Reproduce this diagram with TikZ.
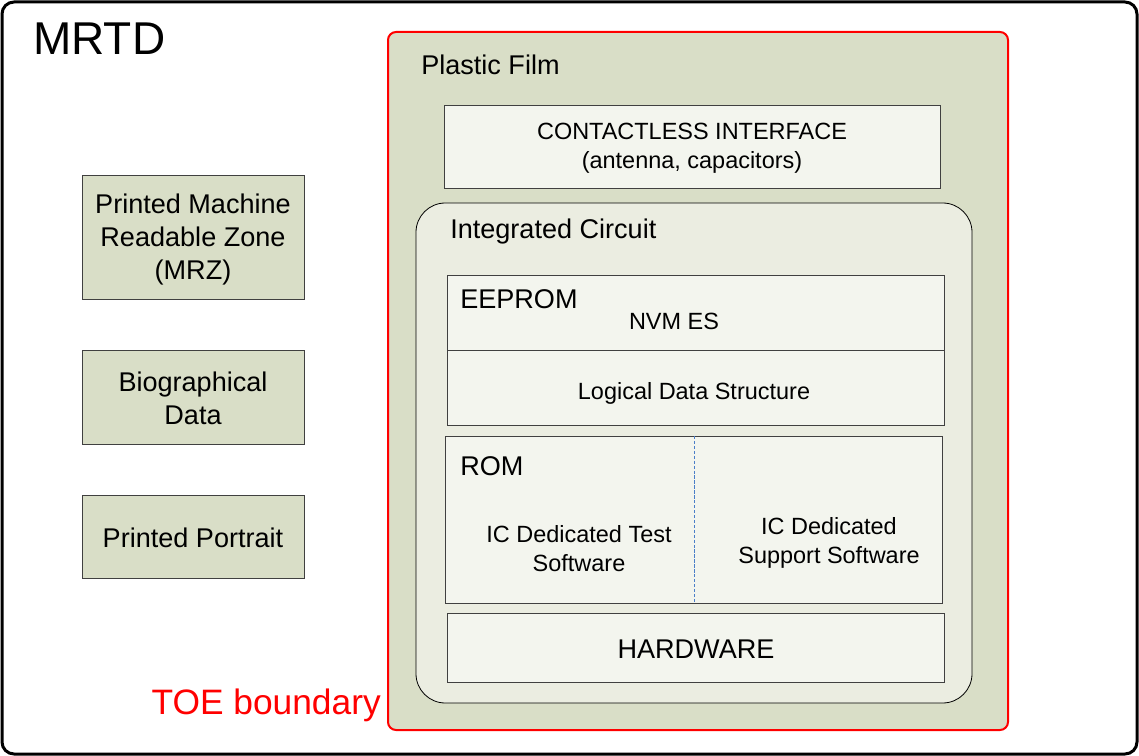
\documentclass[tikz,border=0pt]{standalone}
\usepackage{fontspec}
\setmainfont{Liberation Sans}
\definecolor{film}{HTML}{D9DEC7}
\definecolor{icfill}{HTML}{EBEDE1}
\definecolor{boxfill}{HTML}{F3F5EE}
\definecolor{boxline}{HTML}{404040}
\definecolor{dashblue}{HTML}{4A7EC8}
\tikzset{
  outerframe/.style={draw=black, line width=2.25pt, rounded corners=9pt, fill=white},
  filmbox/.style={draw=red, line width=1.5pt, rounded corners=6pt, fill=film},
  icbox/.style={draw=black, line width=0.6pt, rounded corners=22pt, fill=icfill},
  innerbox/.style={draw=boxline, line width=0.7pt, fill=boxfill},
  sidebox/.style={draw=boxline, line width=0.7pt, fill=film},
  bigtxt/.style={font=\fontsize{20.3}{24.75}\selectfont, inner sep=0pt, align=center, yshift=-1.5pt},
  smalltxt/.style={font=\fontsize{17.6}{21.75}\selectfont, inner sep=0pt, align=center, yshift=-1.5pt},
}
\begin{document}
\begin{tikzpicture}[x=0.75pt, y=-0.75pt]
\useasboundingbox (0,0) rectangle (1139,756);
% outer frame
\draw[outerframe] (2,2) rectangle (1137,754);
\node[font=\fontsize{34.5}{40}\selectfont, inner sep=0pt, anchor=west] (mrtd) at (33,39) {MRTD};
% left boxes
\draw[sidebox] (82,175) rectangle (304,299);
\node[bigtxt] (mrz) at (193,237) {Printed Machine\\Readable Zone\\(MRZ)};
\draw[sidebox] (82,350) rectangle (304,444);
\node[bigtxt] (bio) at (193,396) {Biographical\\Data};
\draw[sidebox] (82,495) rectangle (304,578);
\node[bigtxt] (portrait) at (193,536) {Printed Portrait};
% plastic film
\draw[filmbox] (388,32) rectangle (1008,730);
\node[bigtxt, anchor=west] (film) at (421,63) {Plastic Film};
\node[font=\fontsize{26.5}{30}\selectfont, text=red, inner sep=0pt, anchor=east, yshift=-2pt] (toe) at (381,703) {TOE boundary};
% contactless
\draw[innerbox] (444,105) rectangle (940,188);
\node[smalltxt] (cif) at (692,146) {CONTACTLESS INTERFACE\\(antenna, capacitors)};
% integrated circuit
\draw[icbox] (416,203) rectangle (972,703);
\node[bigtxt, anchor=west] (ic) at (450,230) {Integrated Circuit};
% EEPROM
\draw[innerbox] (447,275) rectangle (944,425);
\draw[boxline, line width=0.7pt] (447,350) -- (944,350);
\node[bigtxt, anchor=west] (eeprom) at (460,297) {EEPROM};
\node[smalltxt] (nvm) at (674,319) {NVM ES};
\node[smalltxt] (lds) at (694,391) {Logical Data Structure};
% ROM
\draw[innerbox] (445,436) rectangle (942,603);
\draw[dashblue, line width=0.7pt, dash pattern=on 2.5pt off 1.2pt] (694,436) -- (694,603);
\node[bigtxt, anchor=west] (rom) at (460,464) {ROM};
\node[smalltxt] (test) at (579,547) {IC Dedicated Test\\Software};
\node[smalltxt] (support) at (829,541) {IC Dedicated\\Support Software};
% hardware
\draw[innerbox] (447,613) rectangle (944,682);
\node[bigtxt] (hw) at (696,647) {HARDWARE};
\end{tikzpicture}
\end{document}
